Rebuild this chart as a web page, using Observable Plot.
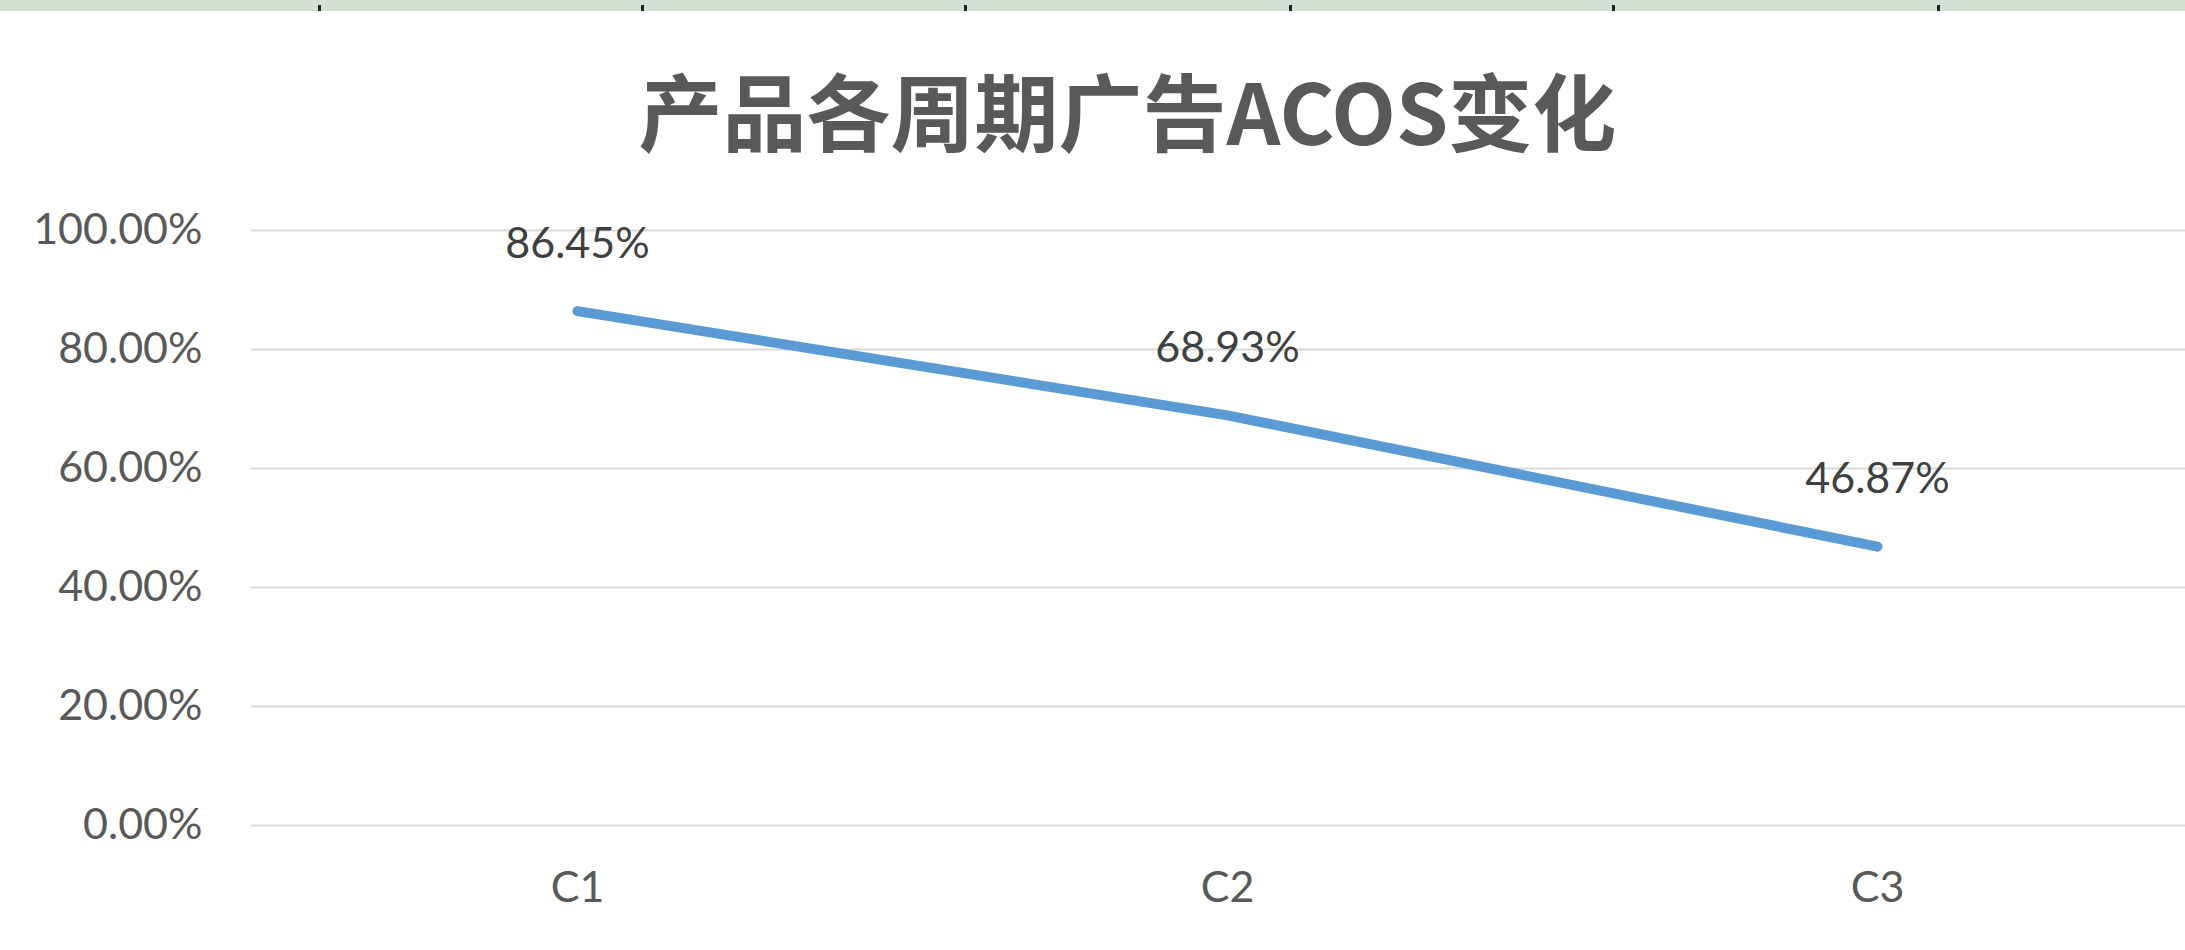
<!DOCTYPE html>
<html>
<head>
<meta charset="utf-8">
<script src="https://cdn.jsdelivr.net/npm/d3@7"></script>
<script src="https://cdn.jsdelivr.net/npm/@observablehq/plot@0.6"></script>
<style>
  html, body { margin: 0; padding: 0; background: #fff; overflow: hidden; }
  #band { position: relative; height: 11px; background: #d5e0d5; }
  .tick { position: absolute; bottom: 0; width: 3px; height: 6px; background: #222; }
  #title {
    height: 150px; box-sizing: border-box; padding-top: 56px; padding-left: 70px;
    text-align: center; font-family: "Noto Sans CJK SC", sans-serif; font-weight: 700;
    font-size: 84px; line-height: 84px; color: #595959; white-space: nowrap;
  }
</style>
</head>
<body>
<div id="band"></div>
<div id="title">产品各周期广告ACOS变化</div>
<div id="chart"></div>
<script>
const categories = ["C1", "C2", "C3"];
const acos = [0.8645, 0.6893, 0.4687];
const yTicks = [0, 0.2, 0.4, 0.6, 0.8, 1.0];
const bandTickPositions = [318, 641, 964, 1289, 1612, 1937];

const band = document.getElementById("band");
for (const p of bandTickPositions) {
  const t = document.createElement("div");
  t.className = "tick";
  t.style.left = p + "px";
  band.appendChild(t);
}

const data = categories.map((c, i) => ({cat: c, v: acos[i]}));
const fmt = d3.format(".2%");

const chart = Plot.plot({
  width: 2185,
  height: 789,
  marginTop: 69,
  marginBottom: 125,
  marginLeft: 251,
  marginRight: 0,
  style: {fontFamily: "Lato, sans-serif", fontSize: "43px", color: "#595959", background: "white"},
  x: {type: "point", domain: categories, range: [251, 2202], padding: 0.5},
  y: {domain: [0, 1]},
  marks: [
    Plot.gridY(yTicks, {stroke: "#d9d9d9", strokeOpacity: 1, strokeWidth: 2}),
    Plot.axisY(yTicks, {tickSize: 0, tickPadding: 49, tickFormat: fmt, fill: "#595959", fontSize: 43, label: null}),
    Plot.axisX({tickSize: 0, tickPadding: 46, fill: "#595959", fontSize: 43, label: null}),
    Plot.line(data, {x: "cat", y: "v", stroke: "#5b9bd5", strokeWidth: 10}),
    Plot.text(data, {x: "cat", y: "v", text: d => fmt(d.v), dy: -67, fill: "#404040", fontSize: 43})
  ]
});
document.getElementById("chart").appendChild(chart);
</script>
</body>
</html>
